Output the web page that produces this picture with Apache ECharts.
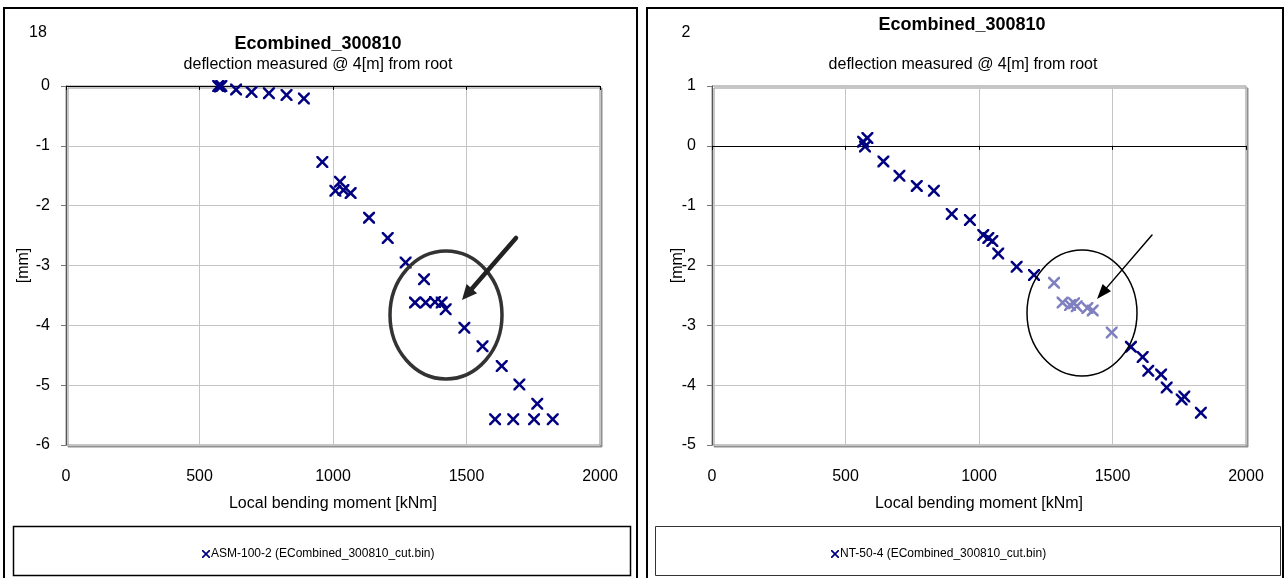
<!DOCTYPE html>
<html>
<head>
<meta charset="utf-8">
<script src="https://cdn.jsdelivr.net/npm/echarts@6/dist/echarts.min.js"></script>
<style>
html,body{margin:0;padding:0;background:#fff;}
#chart{width:1287px;height:578px;}
</style>
</head>
<body>
<div id="chart"></div>
<script>
// ---- data ----
const xTicks = [0, 500, 1000, 1500, 2000];
const leftYTicks = [0, -1, -2, -3, -4, -5, -6];
const rightYTicks = [1, 0, -1, -2, -3, -4, -5];

const leftName = 'ASM-100-2 (ECombined_300810_cut.bin)';
const leftX = [570, 577, 582, 637, 695, 760, 826, 891, 960, 1026, 1009, 1039, 1066, 1135, 1205, 1272,
  1341, 1307, 1347, 1382, 1407, 1422, 1492, 1560, 1632, 1698, 1765, 1607, 1675, 1753, 1823];
const leftY = [0, -0.01, 0, -0.06, -0.1, -0.12, -0.15, -0.21, -1.27, -1.6, -1.75, -1.74, -1.79, -2.2, -2.54, -2.95,
  -3.23, -3.62, -3.62, -3.61, -3.62, -3.73, -4.04, -4.35, -4.68, -4.99, -5.31, -5.57, -5.57, -5.57, -5.57];

const rightName = 'NT-50-4 (ECombined_300810_cut.bin)';
const rightX = [582, 566, 573, 642, 702, 767, 831, 898, 966, 1016, 1035, 1050, 1072, 1141, 1206,
  1569, 1613, 1634, 1682, 1703, 1759, 1769, 1831];
const rightY = [0.13, 0.07, -0.01, -0.26, -0.5, -0.67, -0.75, -1.14, -1.24, -1.49, -1.54, -1.59, -1.8, -2.02, -2.16,
  -3.36, -3.53, -3.76, -3.82, -4.04, -4.24, -4.19, -4.46];
const rightHiX = [1281, 1313, 1341, 1356, 1366, 1406, 1426, 1497];
const rightHiY = [-2.29, -2.62, -2.66, -2.63, -2.68, -2.71, -2.75, -3.12];

const zip = (xs, ys) => xs.map((x, i) => [x, ys[i]]);

const XSYM = 'path://M0,0L3,0L10,7L17,0L20,0L20,3L13,10L20,17L20,20L17,20L10,13L3,20L0,20L0,17L7,10L0,3Z';
const NAVY = '#000080';
const LIGHT = '#8080c0';
const FONT = 'Liberation Sans, Arial, sans-serif';

function gridCfg(left) {
  return {
    left: left, top: 86, width: 534, height: 359,
    show: true, backgroundColor: '#fff', borderColor: '#8c8c8c', borderWidth: 1,
    shadowColor: '#909090', shadowOffsetX: 2, shadowOffsetY: 2, shadowBlur: 0
  };
}
function zeroAxis(gi) {
  return {
    type: 'value', gridIndex: gi, min: 0, max: 2000, interval: 500,
    axisLine: { show: true, onZero: true, lineStyle: { color: '#000', width: 1 } },
    axisTick: { show: true, length: 4, lineStyle: { color: '#000' } },
    axisLabel: { show: false }, splitLine: { show: false }
  };
}
function labelAxis(gi) {
  return {
    type: 'value', gridIndex: gi, min: 0, max: 2000, interval: 500, position: 'bottom',
    axisLine: { show: false, onZero: false }, axisTick: { show: false },
    axisLabel: { color: '#000', fontSize: 16, fontFamily: FONT, margin: 24, formatter: v => String(v) },
    splitLine: { show: true, lineStyle: { color: '#c4c4c4', width: 1 } },
    name: 'Local bending moment [kNm]', nameLocation: 'middle', nameGap: 51, nameMoveOverlap: false,
    nameTextStyle: { color: '#000', fontSize: 16, fontFamily: FONT }
  };
}
function yAxisCfg(gi, min, max, gap) {
  return {
    type: 'value', gridIndex: gi, min: min, max: max, interval: 1,
    axisLine: { show: true, onZero: false, lineStyle: { color: '#555', width: 1 } },
    axisTick: { show: true, length: 5, lineStyle: { color: '#777' } },
    axisLabel: { color: '#000', fontSize: 16, fontFamily: FONT, margin: 16, formatter: v => String(v) },
    splitLine: { show: true, lineStyle: { color: '#c4c4c4', width: 1 } },
    name: '[mm]', nameLocation: 'middle', nameRotate: 90, nameGap: gap, nameMoveOverlap: false,
    nameTextStyle: { color: '#000', fontSize: 16, fontFamily: FONT }
  };
}
function arrow(x1, y1, x2, y2, w, headLen, headHalf, color) {
  const dx = x2 - x1, dy = y2 - y1, L = Math.hypot(dx, dy);
  const ux = dx / L, uy = dy / L, px = -uy, py = ux;
  const bx = x2 - ux * headLen, by = y2 - uy * headLen;
  return [
    { type: 'line', shape: { x1: x1, y1: y1, x2: bx, y2: by }, style: { stroke: color, lineWidth: w, lineCap: 'round' } },
    { type: 'polygon', shape: { points: [[x2, y2], [bx + px * headHalf, by + py * headHalf], [bx - px * headHalf, by - py * headHalf]] },
      style: { fill: color } }
  ];
}
function txt(x, y, s, size, bold) {
  return { type: 'text', x: x, y: y, style: { text: s, fill: '#000', font: (bold ? 'bold ' : '') + size + 'px ' + FONT, textAlign: 'center', textVerticalAlign: 'middle' } };
}

const chart = echarts.init(document.getElementById('chart'), null, { renderer: 'canvas' });
chart.setOption({
  animation: false,
  backgroundColor: '#fff',
  grid: [gridCfg(66), gridCfg(712)],
  xAxis: [zeroAxis(0), labelAxis(0), zeroAxis(1), labelAxis(1)],
  yAxis: [yAxisCfg(0, -6, 0, 34), yAxisCfg(1, -5, 1, 26)],
  legend: [
    { data: [leftName], left: 197, top: 543, icon: XSYM, itemWidth: 8, itemHeight: 8, itemGap: 2,
      textStyle: { fontSize: 12, fontFamily: FONT, color: '#000', padding: [0, 0, 0, -4] }, selectedMode: false },
    { data: [rightName], left: 826, top: 543, icon: XSYM, itemWidth: 8, itemHeight: 8, itemGap: 2,
      textStyle: { fontSize: 12, fontFamily: FONT, color: '#000', padding: [0, 0, 0, -4] }, selectedMode: false }
  ],
  series: [
    { name: leftName, type: 'scatter', xAxisIndex: 1, yAxisIndex: 0, symbol: XSYM, symbolSize: 12, clip: false,
      itemStyle: { color: NAVY, opacity: 1 }, data: zip(leftX, leftY) },
    { name: rightName, type: 'scatter', xAxisIndex: 3, yAxisIndex: 1, symbol: XSYM, symbolSize: 12, clip: false,
      itemStyle: { color: NAVY, opacity: 1 }, data: zip(rightX, rightY) },
    { name: rightName, type: 'scatter', xAxisIndex: 3, yAxisIndex: 1, symbol: XSYM, symbolSize: 12, clip: false,
      itemStyle: { color: LIGHT, opacity: 1 }, data: zip(rightHiX, rightHiY) }
  ],
  graphic: [
    // panel frames
    { type: 'rect', shape: { x: 4, y: 8, width: 633, height: 590 }, style: { fill: 'none', stroke: '#000', lineWidth: 2 }, z: 100 },
    { type: 'rect', shape: { x: 647, y: 8, width: 636, height: 590 }, style: { fill: 'none', stroke: '#000', lineWidth: 2 }, z: 100 },
    // legend boxes
    { type: 'rect', shape: { x: 13.5, y: 526.5, width: 617, height: 49 }, style: { fill: 'none', stroke: '#000', lineWidth: 1.5 }, z: 100 },
    { type: 'rect', shape: { x: 655.5, y: 526.5, width: 625, height: 49 }, style: { fill: 'none', stroke: '#333', lineWidth: 1 }, z: 100 },
    // titles
    txt(318, 44, 'Ecombined_300810', 18, true),
    txt(318, 65, 'deflection measured @ 4[m] from root', 16, false),
    txt(962, 25, 'Ecombined_300810', 18, true),
    txt(963, 65, 'deflection measured @ 4[m] from root', 16, false),
    txt(38, 33, '18', 16, false),
    txt(686, 33, '2', 16, false),
    // annotations
    { type: 'ellipse', shape: { cx: 446, cy: 315, rx: 56, ry: 64 }, style: { fill: 'none', stroke: '#333', lineWidth: 3.5 }, z: 50 },
    { type: 'ellipse', shape: { cx: 1082, cy: 313, rx: 55, ry: 63 }, style: { fill: 'none', stroke: '#000', lineWidth: 1.5 }, z: 50 }
  ].concat(
    arrow(516, 238, 462, 300, 4.5, 15, 7, '#222'),
    arrow(1152, 235, 1097, 299, 1.5, 15, 5.5, '#000')
  ).map(function (g) { if (g.z === undefined) g.z = 50; return g; })
});
</script>
</body>
</html>
